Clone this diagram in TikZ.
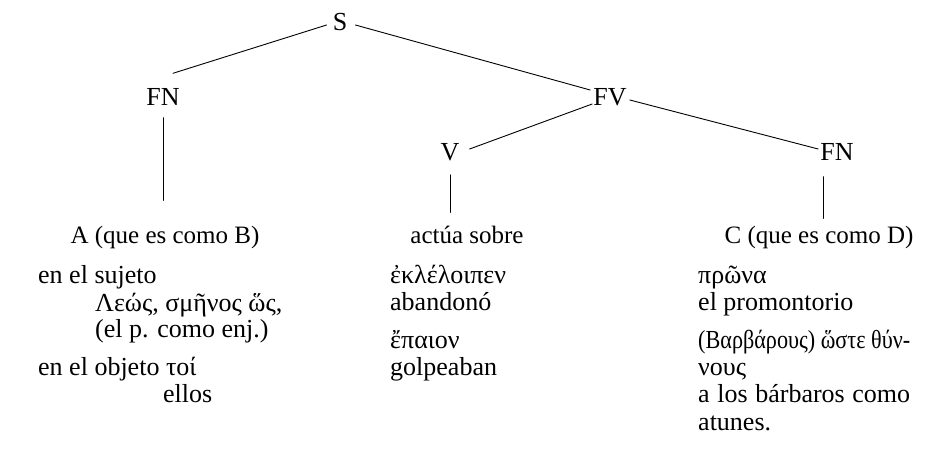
\documentclass[tikz,border=0pt]{standalone}
\usepackage{fontspec}
\setmainfont{Liberation Serif}
\usetikzlibrary{calc}

\tikzset{
  cat/.style={inner sep=0pt, anchor=center, font=\fontsize{26}{27}\selectfont},
  leaf/.style={inner sep=0pt, anchor=base, font=\fontsize{25}{27}\selectfont},
  txt/.style={inner sep=0pt, anchor=base west, font=\fontsize{26}{27}\selectfont},
  branch/.style={line width=0.9pt, line cap=round}
}

\begin{document}
\begin{tikzpicture}[x=1pt, y=-1pt]
\useasboundingbox (0,0) rectangle (937,469);

% categories of the tree
\node[cat] (S)   at (340,22)  {S};
\node[cat] (fnA) at (163,97)  {FN};
\node[cat] (fv)  at (610,97)  {FV};
\node[cat] (v)   at (450,152) {V};
\node[cat] (fnB) at (837,152) {FN};

% terminal strings
\node[leaf] (a)   at (165,243) {A (que es como B)};
\node[leaf] (act) at (467,243) {actúa sobre};
\node[leaf] (c)   at (819,243) {C (que es como D)};

% branches
\draw[branch] ($(S.west)+(-6,3)$)   -- ($(fnA.north)+(10,-15)$);
\draw[branch] ($(S.east)+(8,3)$)    -- ($(fv.west)+(-3,-7)$);
\draw[branch] ($(fv.west)+(-1,7)$)  -- ($(v.east)+(10,-3)$);
\draw[branch] ($(fv.east)+(3,3)$)   -- ($(fnB.west)+(-2,-3)$);
\draw[branch] ($(fnA.south)+(0,12)$) -- ($(fnA.south |- a.north)+(0,-25)$);
\draw[branch] ($(v.south)+(0,14)$)   -- ($(v.south |- act.north)+(0,-13)$);
\draw[branch] ($(fnB.south)+(-14,16)$) -- ($(fnB.south |- c.north)+(-14,-7)$);

% first column: the subject and the object
\node[txt] (l1) at (38,283)  {en el sujeto};
\node[txt] (l2) at (95,311)  {Λεώς, σμῆνος ὥς,};
\node[txt] (l3) at (95,337)  {(el p. como enj.)};
\node[txt] (l4) at (38,375)  {en el objeto τοί};
\node[txt] (l5) at (163,402) {ellos};

% second column: the verbs
\node[txt] (m1) at (390,283) {ἐκλέλοιπεν};
\node[txt] (m2) at (390,310) {abandonó};
\node[txt] (m3) at (390,348) {ἔπαιον};
\node[txt] (m4) at (390,375) {golpeaban};

% third column: the complements
\node[txt] (r1) at (698,283) {πρῶνα};
\node[txt] (r2) at (698,310) {el promontorio};
\node[txt] (r3) at (698,348) {\resizebox{212pt}{\height}{(Βαρβάρους) ὥστε θύν-}};
\node[txt] (r4) at (698,375) {νους};
\node[txt] (r5) at (698,402) {\makebox[212pt][s]{a los bárbaros como}};
\node[txt] (r6) at (698,430) {atunes.};
\end{tikzpicture}
\end{document}
